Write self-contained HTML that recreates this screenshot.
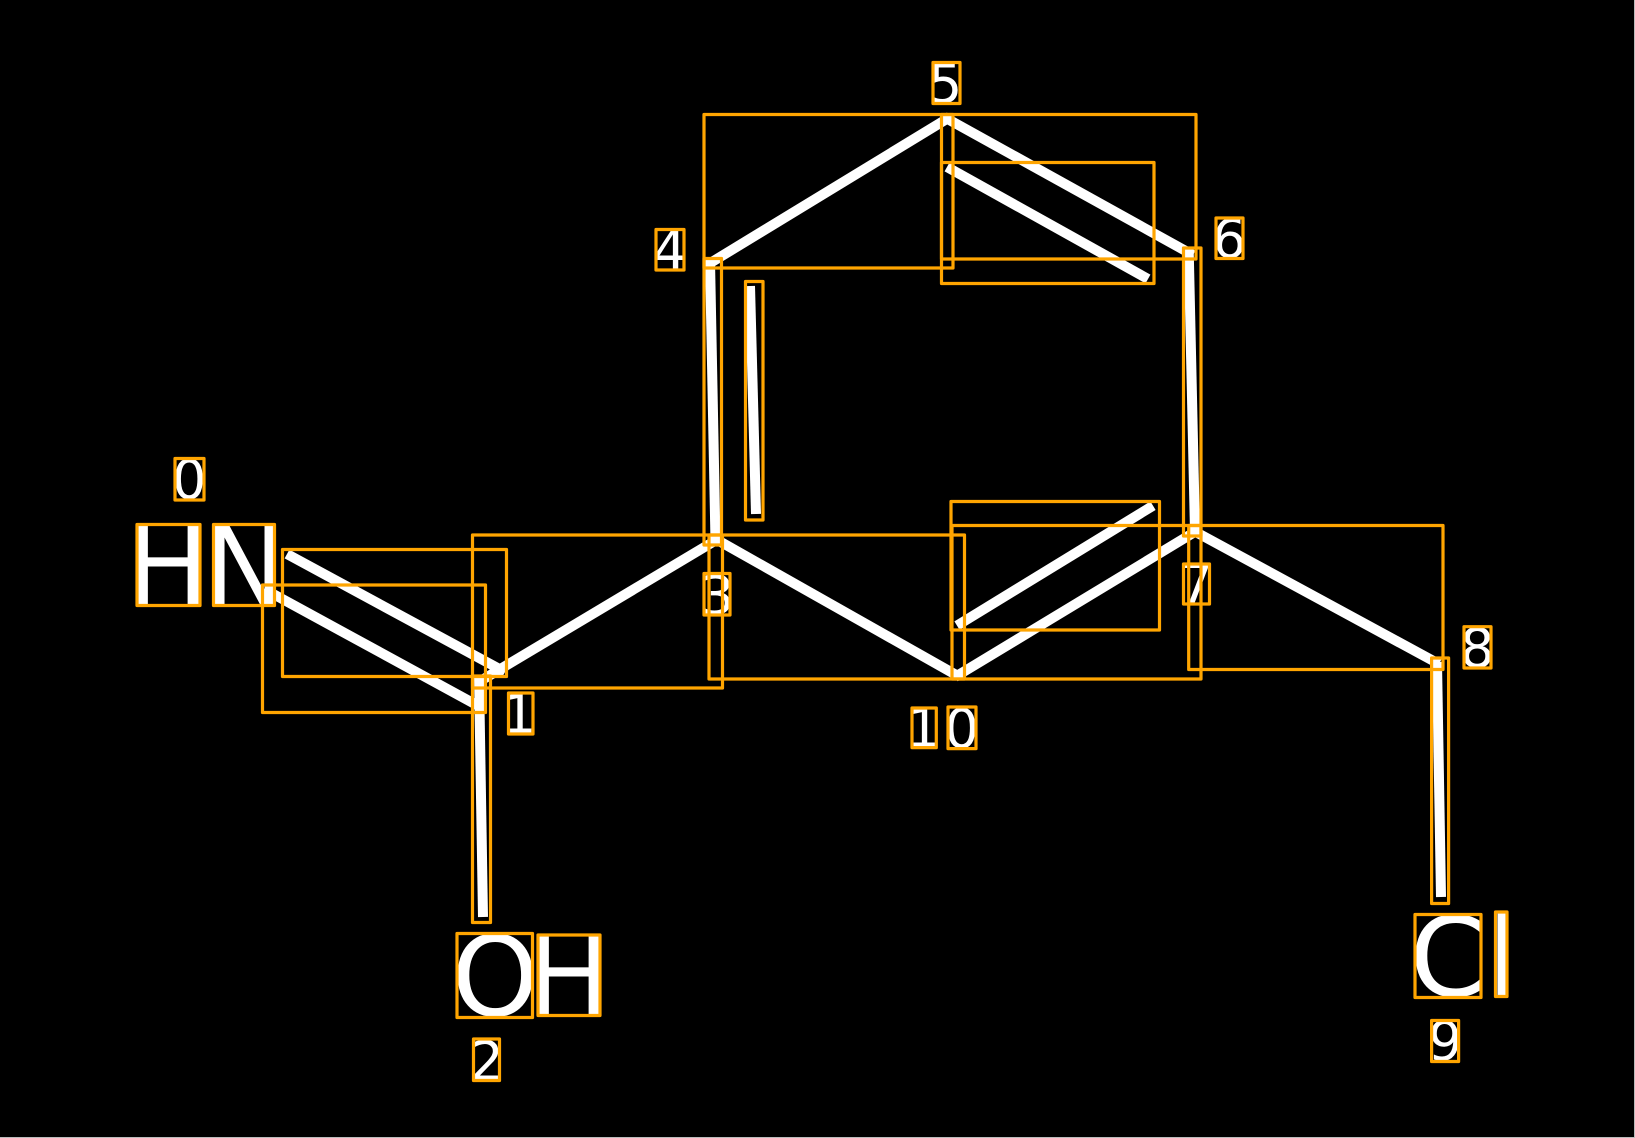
<!DOCTYPE html>
<html>
<head>
<meta charset="utf-8">
<style>
html,body{margin:0;padding:0;background:#000;}
svg{display:block;}
text{font-family:"DejaVu Sans",sans-serif;fill:#fff;}
.b{font-size:111px;}
.s{font-size:54px;}
</style>
</head>
<body>
<svg width="1635" height="1138" viewBox="0 0 1635 1138" xmlns="http://www.w3.org/2000/svg">
<rect x="0" y="0" width="1635" height="1138" fill="#000"/>
<rect x="1634" y="0" width="1" height="1138" fill="#bbb"/>
<rect x="0" y="1137" width="1635" height="1" fill="#bbb"/>
<g stroke="#fff" stroke-width="10" fill="none" stroke-linecap="butt">
<line x1="264" y1="589" x2="484" y2="709"/>
<line x1="287" y1="554" x2="505" y2="672"/>
<line x1="477" y1="683" x2="718" y2="539"/>
<line x1="479" y1="676" x2="483" y2="917"/>
<line x1="710" y1="261" x2="715.5" y2="542"/>
<line x1="750" y1="286" x2="756" y2="514"/>
<line x1="707" y1="265" x2="950" y2="117"/>
<line x1="944" y1="117" x2="1193" y2="255"/>
<line x1="947" y1="167" x2="1148" y2="279"/>
<line x1="1188.7" y1="250" x2="1195" y2="532"/>
<line x1="1198" y1="530" x2="955" y2="677"/>
<line x1="957" y1="625.6" x2="1153" y2="505.7"/>
<line x1="712" y1="537" x2="958" y2="676"/>
<line x1="1192" y1="530" x2="1439" y2="664"/>
<line x1="1437" y1="662" x2="1441" y2="897"/>
</g>
<g>
<text class="b" x="126" y="605">H</text>
<text class="b" x="203" y="605">N</text>
<text class="b" x="451.5" y="1015.5">O</text>
<text class="b" x="527" y="1015">H</text>
<text class="b" x="1409.5" y="996">C</text>
<text class="b" x="1487" y="996">l</text>
<text class="s" x="172" y="498.5">0</text>
<text class="s" x="502" y="733">1</text>
<text class="s" x="469.5" y="1080">2</text>
<text class="s" x="700" y="614">3</text>
<text class="s" x="652.5" y="269.5">4</text>
<text class="s" x="928" y="102.5">5</text>
<text class="s" x="1212" y="257.5">6</text>
<text class="s" x="1179" y="603">7</text>
<text class="s" x="1460" y="667">8</text>
<text class="s" x="1428" y="1060">9</text>
<text class="s" x="906.5" y="747">1</text>
<text class="s" x="944.5" y="747.5">0</text>
</g>
<g fill="none" stroke="#ffa500" stroke-width="3.2" stroke-linejoin="round">
<rect x="175" y="458.5" width="29" height="41.5"/>
<rect x="137" y="524.5" width="63" height="81"/>
<rect x="213.5" y="524.5" width="61" height="81"/>
<rect x="282.5" y="549.5" width="224" height="127"/>
<rect x="262.5" y="585" width="223" height="127.5"/>
<rect x="472.5" y="535" width="250" height="153"/>
<rect x="508.5" y="693" width="24.5" height="41"/>
<rect x="472.5" y="676" width="18" height="246.5"/>
<rect x="457" y="933.5" width="75.5" height="84"/>
<rect x="538" y="935" width="62" height="80.5"/>
<rect x="473.5" y="1039" width="26" height="41.5"/>
<rect x="704" y="573.5" width="26" height="41.5"/>
<rect x="704" y="258.5" width="17.5" height="286.5"/>
<rect x="745.5" y="281.5" width="17.5" height="238.5"/>
<rect x="656" y="229.5" width="28" height="40.5"/>
<rect x="704" y="114.5" width="249" height="153.5"/>
<rect x="941.5" y="114.5" width="254.5" height="144.5"/>
<rect x="941.5" y="162.5" width="212.5" height="121"/>
<rect x="933" y="62.5" width="27" height="41"/>
<rect x="1216" y="218" width="27" height="40.5"/>
<rect x="1183.5" y="248" width="17.5" height="288"/>
<rect x="1183.5" y="564" width="26" height="40"/>
<rect x="1188.7" y="525.5" width="254.3" height="144"/>
<rect x="1464" y="626.7" width="27" height="41.3"/>
<rect x="1431.6" y="658" width="17" height="245.5"/>
<rect x="1415" y="914.5" width="66" height="83"/>
<rect x="1495.5" y="912" width="11.5" height="84.5"/>
<rect x="1431.6" y="1020.5" width="27" height="41"/>
<rect x="912" y="708" width="24.3" height="39.6"/>
<rect x="948" y="707" width="28" height="41.6"/>
<rect x="709" y="535" width="255.5" height="144"/>
<rect x="952" y="525.5" width="249" height="153.5"/>
<rect x="951" y="501.5" width="208.5" height="128.5"/>
</g>
</svg>
</body>
</html>
